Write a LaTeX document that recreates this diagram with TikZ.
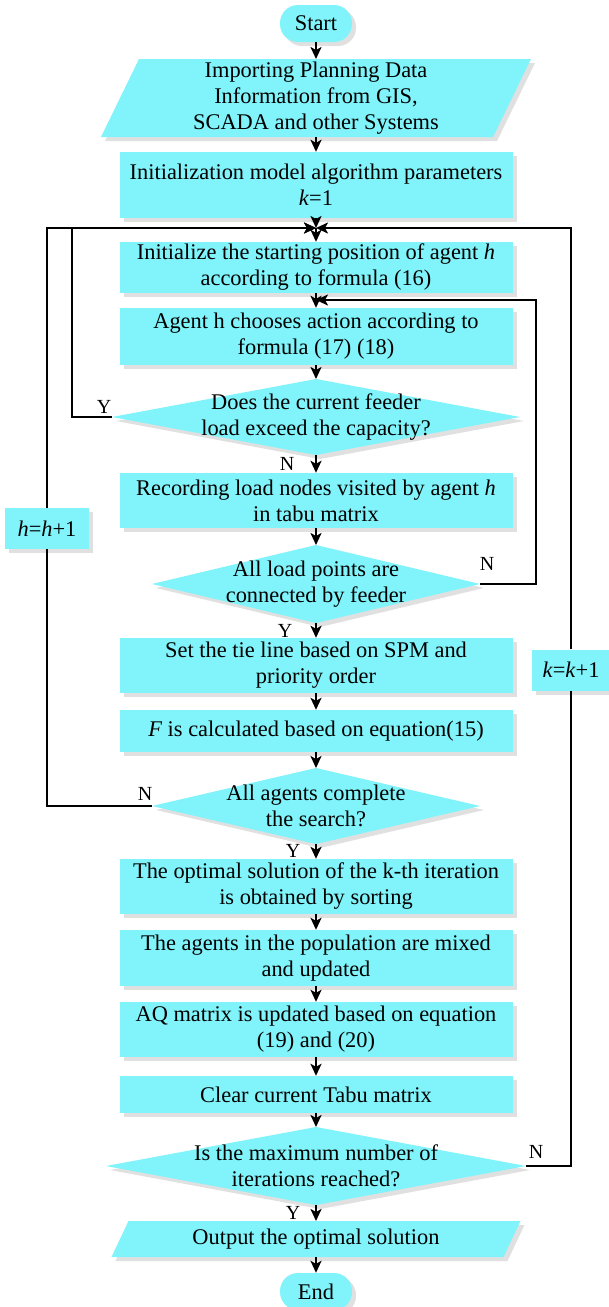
\documentclass[tikz,border=0pt]{standalone}
\usepackage{fontspec}
\setmainfont{Liberation Serif}
\usetikzlibrary{arrows.meta,shadows}
\definecolor{cyanc}{RGB}{128,244,250}
\definecolor{shadowc}{RGB}{224,224,224}
\newcommand\mainfs{\fontsize{22.4}{26}\selectfont}
\newcommand\lblfs{\fontsize{20}{22}\selectfont}
\newcommand\mydiam[6]{%
  \fill[shadowc] (#2+4,#3-#5+4) -- (#2+#4+4,#3+4) -- (#2+4,#3+#5+4) -- (#2-#4+4,#3+4) -- cycle;
  \fill[cyanc] (#2,#3-#5) -- (#2+#4,#3) -- (#2,#3+#5) -- (#2-#4,#3) -- cycle;
  \coordinate (#1-t) at (#2,#3-#5);
  \coordinate (#1-b) at (#2,#3+#5);
  \coordinate (#1-l) at (#2-#4,#3);
  \coordinate (#1-r) at (#2+#4,#3);
  \node[txt] (#1) at (#2,#3) {#6};
}
\newcommand\mypara[7]{%
  \fill[shadowc] (#2-#4+#6+4,#3-#5+4) -- (#2+#4+#6+4,#3-#5+4) -- (#2+#4-#6+4,#3+#5+4) -- (#2-#4-#6+4,#3+#5+4) -- cycle;
  \fill[cyanc] (#2-#4+#6,#3-#5) -- (#2+#4+#6,#3-#5) -- (#2+#4-#6,#3+#5) -- (#2-#4-#6,#3+#5) -- cycle;
  \coordinate (#1-t) at (#2,#3-#5);
  \coordinate (#1-b) at (#2,#3+#5);
  \node[txt] (#1) at (#2,#3) {#7};
}
\begin{document}
\begin{tikzpicture}[x=1pt,y=-1pt,
  shad/.style={drop shadow={shadow xshift=4pt,shadow yshift=-4pt,fill=shadowc,opacity=1}},
  box/.style={fill=cyanc,minimum width=393pt,inner sep=0pt,align=center,font=\mainfs,shad},
  smallbox/.style={fill=cyanc,minimum width=84pt,minimum height=41pt,inner sep=0pt,align=center,font=\mainfs,shad},
  term/.style={fill=cyanc,minimum width=72pt,minimum height=37pt,rounded corners=18pt,inner sep=0pt,font=\mainfs,shad},
  txt/.style={align=center,inner sep=0pt,font=\mainfs},
  lbl/.style={font=\lblfs,inner sep=0pt},
  arr/.style={-{Stealth[length=12pt,width=11pt,inset=3pt]},line width=2.4pt},
  ln/.style={line width=2.4pt}]
\path[use as bounding box,fill=white] (0,0) rectangle (608,1307);

% nodes
\node[term] (start) at (316,23.5) {Start};
\mypara{imp}{316}{98}{196}{39}{19}{Importing Planning Data\\Information from GIS,\\SCADA and other Systems}
\node[box,minimum height=66pt] (init) at (316,185) {Initialization model algorithm parameters\\\textit{k}=1};
\coordinate (j1) at (316,228);
\node[box,minimum height=51pt] (initpos) at (316,267.5) {Initialize the starting position of agent \textit{h}\\according to formula (16)};
\coordinate (j2) at (316,300);
\node[box,minimum height=57pt] (agent) at (316,336.5) {Agent h chooses action according to\\formula (17) (18)};
\mydiam{d1}{316}{417}{204}{38}{Does the current feeder\\load exceed the capacity?}
\node[box,minimum height=55pt] (rec) at (316,500.5) {Recording load nodes visited by agent \textit{h}\\in tabu matrix};
\mydiam{d2}{316}{584}{164}{39}{All load points are\\connected by feeder}
\node[box,minimum height=55pt] (tie) at (316,665.5) {Set the tie line based on SPM and\\priority order};
\node[box,minimum height=42pt] (fcalc) at (316,731) {\textit{F} is calculated based on equation(15)};
\mydiam{d3}{316}{806}{164}{38}{All agents complete\\the search?}
\node[box,minimum height=55pt] (opt) at (316,886.5) {The optimal solution of the k-th iteration\\is obtained by sorting};
\node[box,minimum height=56pt] (mix) at (316,958) {The agents in the population are mixed\\and updated};
\node[box,minimum height=55pt] (aq) at (316,1029.5) {AQ matrix is updated based on equation\\(19) and (20)};
\node[box,minimum height=37pt] (clear) at (316,1094.5) {Clear current Tabu matrix};
\mydiam{d4}{316}{1166}{210}{39}{Is the maximum number of\\iterations reached?}
\mypara{outp}{316}{1239}{196}{18}{8.5}{Output the optimal solution}
\node[term] (end) at (316,1291.5) {End};
\node[smallbox] (hbox) at (47,528.5) {\textit{h}=\textit{h}+1};
\node[smallbox,minimum width=78pt] (kbox) at (571,670) {\textit{k}=\textit{k}+1};

% main flow
\draw[arr] (start) -- (imp-t);
\draw[arr] (imp-b) -- (init);
\draw[arr] (init) -- (j1);
\draw[arr] (j1) -- (initpos);
\draw[arr] (initpos) -- (agent);
\draw[arr] (agent) -- (d1-t);
\draw[arr] (d1-b) -- (rec);
\draw[arr] (rec) -- (d2-t);
\draw[arr] (d2-b) -- (tie);
\draw[arr] (tie) -- (fcalc);
\draw[arr] (fcalc) -- (d3-t);
\draw[arr] (d3-b) -- (opt);
\draw[arr] (opt) -- (mix);
\draw[arr] (mix) -- (aq);
\draw[arr] (aq) -- (clear);
\draw[arr] (clear) -- (d4-t);
\draw[arr] (d4-b) -- (outp-t);
\draw[arr] (outp-b) -- (end);

% loops
\draw[arr] (d1-l) -- ++(-40,0) |- (j1);
\draw[arr] (d2-r) -- ++(56,0) |- (j2);
\draw[ln] (d3-l) -| (hbox.south);
\draw[arr] (hbox.north) |- (j1);
\draw[ln] (d4-r) -| (kbox.south);
\draw[arr] (kbox.north) |- (j1);

% labels
\node[lbl] (l1) at (104,407) {Y};
\node[lbl] (l2) at (287,464) {N};
\node[lbl] (l3) at (487,564) {N};
\node[lbl] (l4) at (285,631) {Y};
\node[lbl] (l5) at (145,794) {N};
\node[lbl] (l6) at (293,851) {Y};
\node[lbl] (l7) at (536,1152) {N};
\node[lbl] (l8) at (293,1213) {Y};
\end{tikzpicture}
\end{document}
